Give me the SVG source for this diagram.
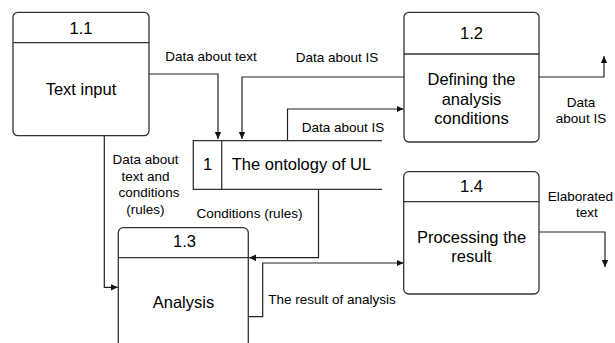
<svg xmlns="http://www.w3.org/2000/svg" width="615" height="343" viewBox="0 0 615 343">
<defs>
<marker id="ah" markerWidth="8" markerHeight="8" refX="7" refY="4" orient="auto" markerUnits="userSpaceOnUse">
<path d="M0,0.8 L7,4 L0,7.2 Z" fill="#111"/>
</marker>
</defs>
<style>
.box{fill:#fff;stroke:#333;stroke-width:1.3}
.div{stroke:#333;stroke-width:1.3;fill:none}
.ln{stroke:#222;stroke-width:1.2;fill:none}
.arr{stroke:#222;stroke-width:1.2;fill:none;marker-end:url(#ah)}
.t{font-family:"Liberation Sans",Arial,sans-serif;font-size:16.5px;fill:#000;text-anchor:middle;dominant-baseline:central}
.l{font-family:"Liberation Sans",Arial,sans-serif;font-size:13.5px;fill:#000;text-anchor:middle;dominant-baseline:central}
</style>
<rect width="615" height="343" fill="#fff"/>
<g id="connectors">
<path class="arr" d="M149,74 H218 V139"/>
<text class="l" x="211" y="56">Data about text</text>
<path class="arr" d="M404,77 H242 V139"/>
<text class="l" x="337" y="57">Data about IS</text>
<path class="arr" d="M287.5,140.7 V109 H403.5"/>
<text class="l" x="343" y="127">Data about IS</text>
<path class="arr" d="M539,77 H604 V56"/>
<text class="l" x="581" y="102">Data</text>
<text class="l" x="581" y="118">about IS</text>
<path class="arr" d="M318.5,189.3 V257.7 H249"/>
<text class="l" x="249.5" y="213.3">Conditions (rules)</text>
<path class="arr" d="M104.3,135.7 V287.3 H117.8"/>
<text class="l" x="145.5" y="159.5">Data about</text>
<text class="l" x="145.5" y="176">text and</text>
<text class="l" x="149" y="192.7">conditions</text>
<text class="l" x="145.5" y="209.5">(rules)</text>
<path class="arr" d="M248.3,316.7 H262.7 V263 H403.5"/>
<text class="l" x="332" y="299.3">The result of analysis</text>
<path class="arr" d="M539,232 H605 V267"/>
<text class="l" x="613" y="196" style="text-anchor:end">Elaborated</text>
<text class="l" x="587" y="212">text</text>
</g>
<g id="n1_1">
<rect class="box" x="13" y="12.3" width="136" height="123.4" rx="5"/>
<line class="div" x1="13" y1="42.7" x2="149" y2="42.7"/>
<text class="t" x="81" y="27.5">1.1</text>
<text class="t" x="81" y="89">Text input</text>
</g>
<g id="n1_2">
<rect class="box" x="404" y="12.3" width="135" height="129.7" rx="5"/>
<line class="div" x1="404" y1="54" x2="539" y2="54"/>
<text class="t" x="471.5" y="33">1.2</text>
<text class="t" x="471.5" y="79">Defining the</text>
<text class="t" x="471.5" y="98.5">analysis</text>
<text class="t" x="471.5" y="118">conditions</text>
</g>
<g id="store1">
<path class="div" d="M382,140.7 H193.3 V189.3 H382"/>
<line class="div" x1="221.7" y1="140.7" x2="221.7" y2="189.3"/>
<text class="t" x="207.5" y="164">1</text>
<text class="t" x="301.5" y="164">The ontology of UL</text>
</g>
<g id="n1_3">
<path class="box" d="M118.3,350 V232.7 A5,5 0 0 1 123.3,227.7 H243.3 A5,5 0 0 1 248.3,232.7 V350"/>
<line class="div" x1="118.3" y1="257.7" x2="248.3" y2="257.7"/>
<text class="t" x="184.5" y="240.7">1.3</text>
<text class="t" x="183.5" y="301.7">Analysis</text>
</g>
<g id="n1_4">
<rect class="box" x="403.7" y="171.7" width="135.3" height="122.3" rx="5"/>
<line class="div" x1="403.7" y1="201.7" x2="539" y2="201.7"/>
<text class="t" x="471.5" y="185.5">1.4</text>
<text class="t" x="471.5" y="236.7">Processing the</text>
<text class="t" x="471.5" y="256">result</text>
</g>
</svg>
